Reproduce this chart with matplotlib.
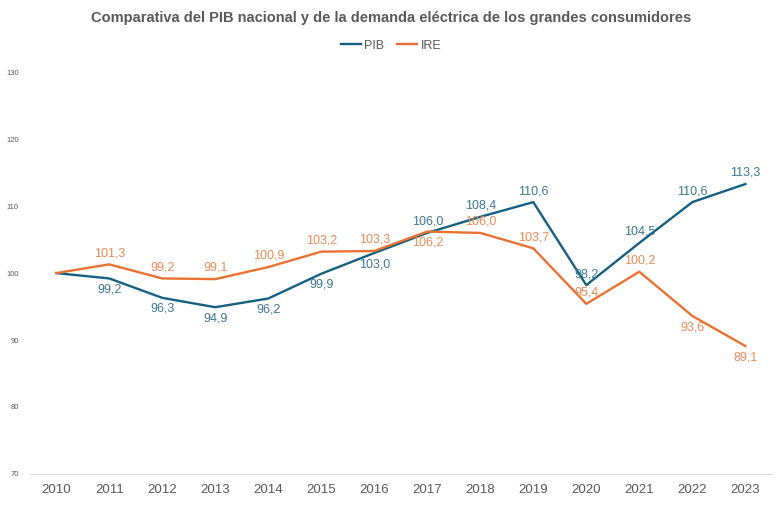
import matplotlib.pyplot as plt

years = ['2010', '2011', '2012', '2013', '2014', '2015', '2016',
         '2017', '2018', '2019', '2020', '2021', '2022', '2023']
pib = [100.0, 99.2, 96.3, 94.9, 96.2, 99.9, 103.0,
       106.0, 108.4, 110.6, 98.2, 104.5, 110.6, 113.3]
ire = [100.0, 101.3, 99.2, 99.1, 100.9, 103.2, 103.3,
       106.2, 106.0, 103.7, 95.4, 100.2, 93.6, 89.1]
# label side per point: 1 above, -1 below, 0 none
pib_pos = [0, -1, -1, -1, -1, -1, -1, 1, 1, 1, 1, 1, 1, 1]
ire_pos = [0, 1, 1, 1, 1, 1, 1, -1, 1, 1, 1, 1, -1, -1]

plt.rcParams['font.family'] = ['Liberation Sans', 'DejaVu Sans']

c_pib = '#156082'
c_ire = '#E97132'
c_pib_lab = '#3A7896'
c_ire_lab = '#EE8A55'

fig = plt.figure(figsize=(7.82, 5.09), dpi=100)
ax = fig.add_axes([0.038, 0.069, 0.949, 0.789])

x = list(range(len(years)))
ax.plot(x, pib, color=c_pib, lw=1.7, label='PIB', solid_joinstyle='round')
ax.plot(x, ire, color=c_ire, lw=1.7, label='IRE', solid_joinstyle='round')

def fmt(v):
    return f'{v:.1f}'.replace('.', ',')

for xi, v, p in zip(x, pib, pib_pos):
    if p:
        ax.annotate(fmt(v), (xi, v), xytext=(0, 8 * p), textcoords='offset points',
                    ha='center', va='center', fontsize=9, color=c_pib_lab)
for xi, v, p in zip(x, ire, ire_pos):
    if p:
        ax.annotate(fmt(v), (xi, v), xytext=(0, 8 * p), textcoords='offset points',
                    ha='center', va='center', fontsize=9, color=c_ire_lab)

ax.set_xlim(-0.5, len(years) - 0.5)
ax.set_ylim(70, 130)
ax.set_yticks([70, 80, 90, 100, 110, 120, 130])
ax.set_xticks(x)
ax.set_xticklabels(years)
ax.tick_params(axis='y', length=0, labelsize=5.5, colors='#595959', pad=8)
ax.tick_params(axis='x', length=0, labelsize=9.5, colors='#595959', pad=7)
for s in ['top', 'right', 'left']:
    ax.spines[s].set_visible(False)
ax.spines['bottom'].set_color('#D9D9D9')

fig.text(0.5, 0.965, 'Comparativa del PIB nacional y de la demanda eléctrica de los grandes consumidores',
         ha='center', va='center', fontsize=10.5, fontweight='bold', color='#595959')
fig.legend(loc='center', bbox_to_anchor=(0.5, 0.91), ncol=2, frameon=False,
           fontsize=9, handlelength=1.6, handletextpad=0.3, columnspacing=1.0,
           labelcolor='#595959')

fig.savefig('out.png', dpi=100)
